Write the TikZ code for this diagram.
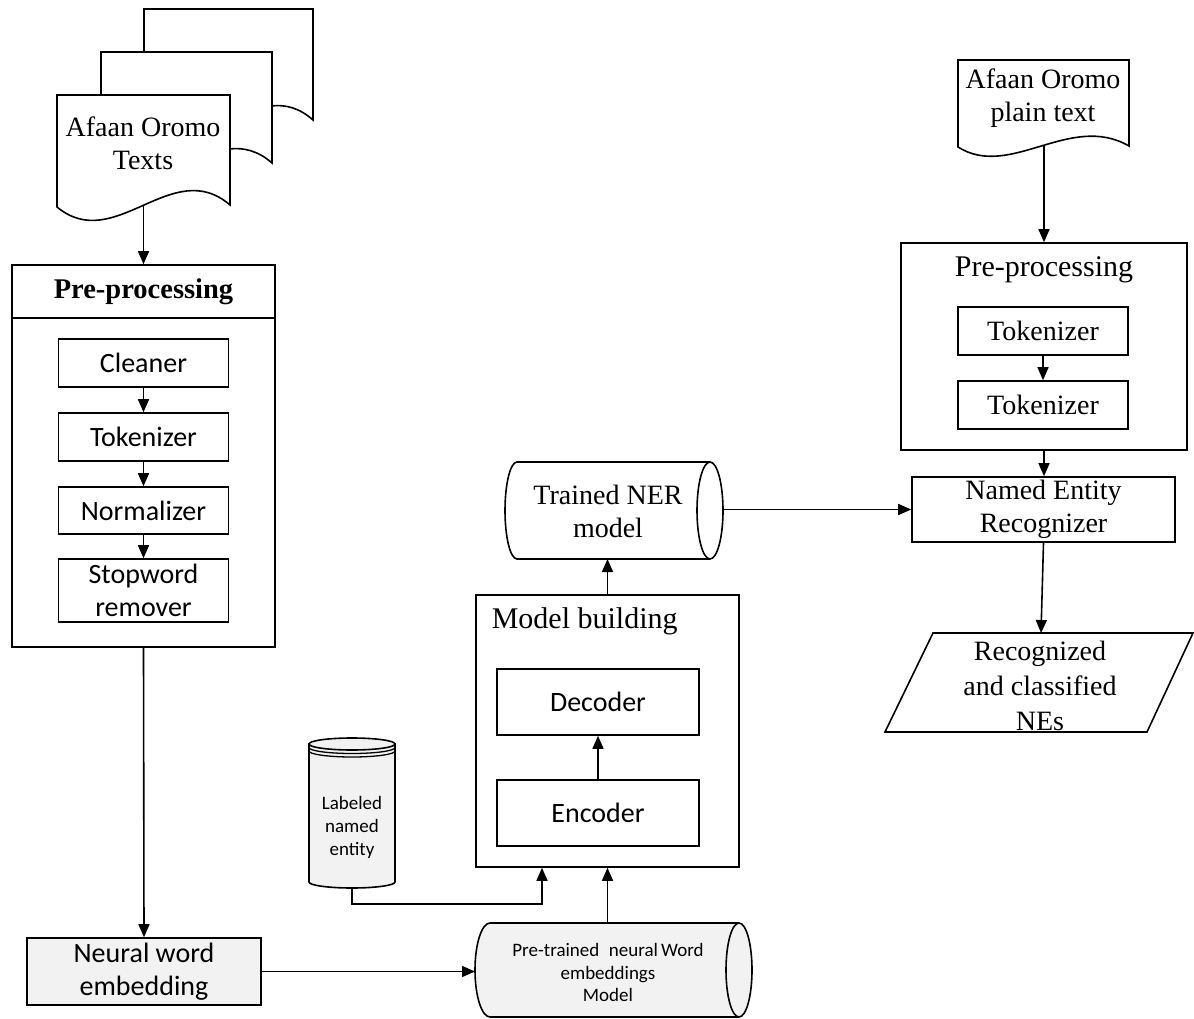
\documentclass[tikz,border=0pt]{standalone}
\usepackage{fontspec}
\setmainfont{Liberation Serif}
\newfontfamily\calib{Carlito}
\usetikzlibrary{arrows.meta}
\definecolor{lg}{HTML}{F2F2F2}
\begin{document}
\begin{tikzpicture}[x=1pt,y=-1pt, line width=1.6pt,
  arr/.style={-{Triangle[length=13pt,width=11pt]}},
  box/.style={draw, rectangle, inner sep=0pt, align=center},
  ser/.style={font=\fontsize{28}{33}\selectfont, align=center, inner sep=0pt},
  sans/.style={font=\calib\fontsize{28}{33}\selectfont},
  small/.style={font=\calib\fontsize{19}{23}\selectfont, align=center, inner sep=0pt},
]
\useasboundingbox (0,0) rectangle (1194,1019);

% ---------- stacked documents ----------
\draw[fill=white] (144,9) -- (313,9) -- (313,120) .. controls (257,70) and (201,170) .. (144,122) -- cycle;
\draw[fill=white] (101,52) -- (272,52) -- (272,163) .. controls (215,113) and (158,213) .. (101,165) -- cycle;
\draw[fill=white] (57,95) -- (230,95) -- (230,205) .. controls (172,155) and (115,255) .. (57,207) -- cycle;
\node[ser] (docL) at (143,143) {Afaan Oromo\\Texts};
\coordinate (docB) at (143.5,205);

% ---------- left pre-processing ----------
\node[box, minimum width=263pt, minimum height=382pt] (pre1) at (143.5,456) {};
\draw (12,318) -- (275,318);
\node[font=\bfseries\fontsize{28.5}{33}\selectfont, inner sep=0pt] (pre1t) at (143.5,291.5) {Pre-processing};
\node[box, sans, minimum width=170pt, minimum height=48pt] (clean) at (143.5,363) {Cleaner};
\node[box, sans, minimum width=170pt, minimum height=48pt] (tok) at (143.5,437) {Tokenizer};
\node[box, sans, minimum width=170pt, minimum height=47pt] (norm) at (143.5,510.5) {Normalizer};
\node[box, sans, minimum width=170pt, minimum height=63pt] (stop) at (143.5,590.5) {Stopword\\remover};

% ---------- neural word embedding ----------
\node[box, sans, fill=lg, minimum width=234pt, minimum height=67pt] (new) at (144,971.5) {Neural word\\embedding};

% ---------- pre-trained embeddings cylinder ----------
\draw[fill=lg] (490,923) -- (739,923) .. controls (746.2,923) and (752,944) .. (752,970)
  .. controls (752,996) and (746.2,1017) .. (739,1017) -- (490,1017)
  .. controls (481.7,1017) and (475,996) .. (475,970)
  .. controls (475,944) and (481.7,923) .. (490,923) -- cycle;
\draw (739,923) .. controls (731.8,923) and (726,944) .. (726,970)
  .. controls (726,996) and (731.8,1017) .. (739,1017);
\node[small, font=\calib\fontsize{19}{22.5}\selectfont] (emb) at (608,972.5) {Pre-trained\enspace neural\,Word\\embeddings\\Model};
\coordinate (embL) at (475,971.5);
\coordinate (embT) at (607.5,923);

% ---------- labeled named entity cylinder ----------
\draw[fill=lg] (309,744) -- (309,882) .. controls (309,885.3) and (328.3,888) .. (352,888)
  .. controls (375.7,888) and (395,885.3) .. (395,882) -- (395,744) -- cycle;
\draw[fill=lg] (352,744) ellipse [x radius=43, y radius=6];
\draw[line width=1.3pt] (309,747.5) .. controls (309,750.8) and (328.3,753.5) .. (352,753.5) .. controls (375.7,753.5) and (395,750.8) .. (395,747.5);
\draw[line width=1.3pt] (309,751) .. controls (309,754.3) and (328.3,757) .. (352,757) .. controls (375.7,757) and (395,754.3) .. (395,751);
\node[small] (lab) at (352,827) {Labeled\\named\\entity};
\coordinate (labB) at (352,888);

% ---------- model building ----------
\node[box, minimum width=263pt, minimum height=272pt] (mb) at (607.5,731) {};
\node[font=\fontsize{30}{33}\selectfont, inner sep=0pt, anchor=west] (mbt) at (491,621) {Model building};
\node[box, sans, minimum width=202pt, minimum height=66pt] (dec) at (598,702) {Decoder};
\node[box, sans, minimum width=202pt, minimum height=66pt] (enc) at (598,813) {Encoder};

% ---------- trained NER model cylinder ----------
\draw (517,462) -- (710,462) .. controls (717.2,462) and (723,483.7) .. (723,510.5)
  .. controls (723,537.3) and (717.2,559) .. (710,559) -- (517,559)
  .. controls (510.4,559) and (505,537.3) .. (505,510.5)
  .. controls (505,483.7) and (510.4,462) .. (517,462) -- cycle;
\draw (710,462) .. controls (702.8,462) and (697,483.7) .. (697,510.5)
  .. controls (697,537.3) and (702.8,559) .. (710,559);
\node[ser] (tner) at (608,511) {Trained NER\\model};
\coordinate (tnerB) at (607.5,559);
\coordinate (tnerR) at (723,509.5);

% ---------- right document ----------
\draw[fill=white] (958,60) -- (1129,60) -- (1129,146) .. controls (1070,112) and (1010,180) .. (958,147) -- cycle;
\node[ser] (rdoc) at (1043,98.5) {Afaan Oromo\\plain text};
\coordinate (rdocB) at (1044,146);

% ---------- right pre-processing ----------
\node[box, minimum width=286pt, minimum height=207pt] (pre2) at (1044,346.5) {};
\node[font=\fontsize{30}{33}\selectfont, inner sep=0pt] (pre2t) at (1044,270) {Pre-processing};
\node[box, ser, minimum width=170pt, minimum height=48pt] (tok1) at (1043,331) {Tokenizer};
\node[box, ser, minimum width=170pt, minimum height=48pt] (tok2) at (1043,405) {Tokenizer};

% ---------- NER ----------
\node[box, ser, minimum width=263pt, minimum height=65pt] (ner) at (1043.5,509.5) {Named Entity\\Recognizer};

% ---------- output parallelogram ----------
\draw (933,633) -- (1193,633) -- (1147,732) -- (885,732) -- cycle;
\node[ser, font=\fontsize{28}{35}\selectfont] (rec) at (1040,686) {Recognized\\and classified\\NEs};
\coordinate (recT) at (1041,633);

% ---------- connectors ----------
\draw[arr] (docB) -- (pre1.north);
\draw[arr] (clean) -- (tok);
\draw[arr] (tok) -- (norm);
\draw[arr] (norm) -- (stop);
\draw[arr] (pre1.south) -- (new.north);
\draw[arr] (new.east) -- (embL);
\draw[arr] (embT) -- (embT |- mb.south);
\draw[arr] (labB) -- ++(0,16) -| ([xshift=-65.5pt]mb.south);
\draw[arr] (enc) -- (dec);
\draw[arr] (mb.north) -- (tnerB);
\draw[arr] (tnerR) -- (ner.west);
\draw[arr] (rdocB) -- (pre2.north);
\draw[arr] (tok1) -- (tok2);
\draw[arr] (pre2.south) -- (pre2.south |- ner.north);
\draw[arr] (ner.south) -- (recT);
\end{tikzpicture}
\end{document}
